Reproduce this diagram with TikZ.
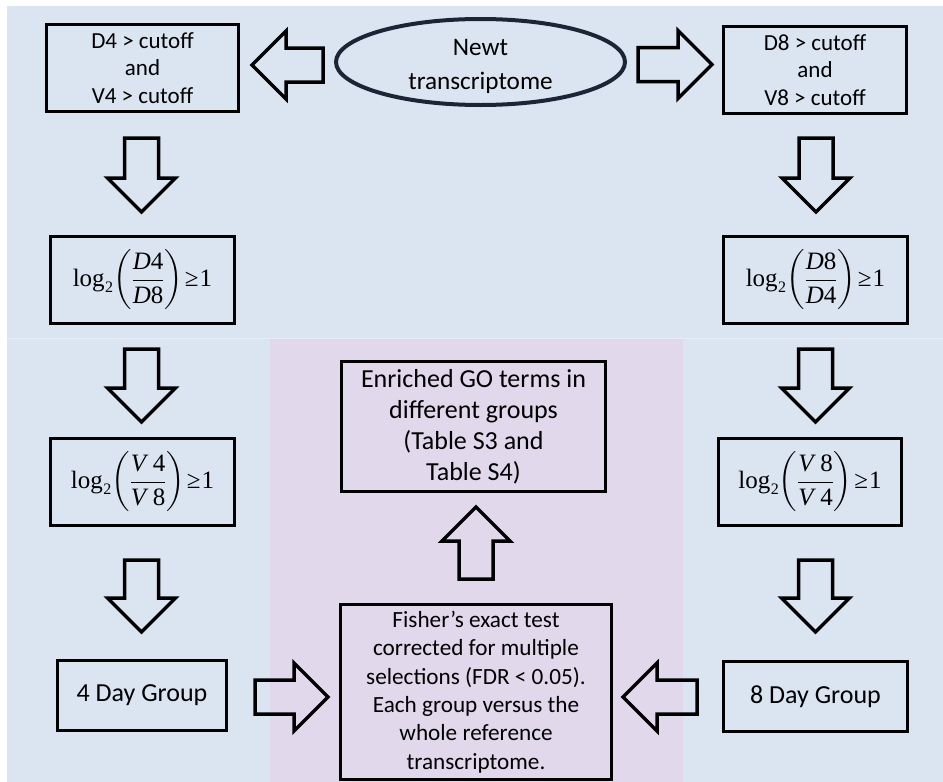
\documentclass[tikz,border=0pt]{standalone}
\usepackage{mathptmx}
\usepackage[no-math]{fontspec}
\setmainfont{Carlito}
\newfontfamily\tms{Liberation Serif}
\usetikzlibrary{shapes.geometric,calc}
\definecolor{bgblue}{HTML}{DBE5F1}
\definecolor{bgline}{HTML}{E6EDF6}
\definecolor{bgpurple}{HTML}{E1D8EC}
\definecolor{navy}{HTML}{1C2535}
\tikzset{
  box/.style={draw=black, line width=3.5pt, inner sep=0pt, align=center, font=\fontsize{23}{27.5}\selectfont},
  mathbox/.style={box, font=\fontsize{25}{30}\selectfont\tms},
  barrow/.style={draw=black, line width=3.5pt, line join=miter},
}
\newcommand\logratio[2]{%
  log\hspace{0.5pt}\raisebox{-6pt}{\fontsize{16}{16}\selectfont 2}%
  $\displaystyle\left(\frac{\mbox{\tms #1}}{\mbox{\tms #2}}\right)$\hspace{2pt}≥\hspace{1pt}1}
\newcommand\blockarrow[3]{%
  \draw[barrow, shift={(#1)}, rotate=#2]
    (0,-17) -- (#3-34,-17) -- (#3-34,-34) -- (#3,0) -- (#3-34,34) -- (#3-34,17) -- (0,17) -- cycle;}
\begin{document}
\begin{tikzpicture}[x=1pt, y=-1pt]
\useasboundingbox (0,0) rectangle (943,782);
% backgrounds
\fill[white] (0,0) rectangle (943,782);
\fill[bgblue] (7,6) rectangle (943,782);
\draw[bgline, line width=1.2pt] (7,338.5) -- (943,338.5);
\fill[bgpurple] (270,339) rectangle (682.5,782);

% nodes
\node[draw=navy, line width=4pt, ellipse, inner sep=0pt, minimum width=289, minimum height=86] (newt) at (480.5,62) {};
\node[inner sep=0pt, align=center, font=\fontsize{25.2}{34}\selectfont] (newtlabel) at ($(newt.center)+(0,4.5)$) {Newt\\transcriptome};
\node[box, minimum width=192, minimum height=87] (b1) at (142.5,68) {D4 > cutoff\\and\\V4 > cutoff};
\node[box, minimum width=183, minimum height=87] (b2) at (815,70) {D8 > cutoff\\and\\V8 > cutoff};
\node[mathbox, minimum width=184, minimum height=87] (b3) at (142.5,280) {\logratio{\textit{D}4}{\textit{D}8}};
\node[mathbox, minimum width=184, minimum height=87] (b4) at (815.5,280) {\logratio{\textit{D}8}{\textit{D}4}};
\node[mathbox, minimum width=184, minimum height=87] (b5) at (142.5,482) {\logratio{\textit{V}\,4}{\textit{V}\,8}};
\node[mathbox, minimum width=183, minimum height=87] (b6) at (810,482) {\logratio{\textit{V}\,8}{\textit{V}\,4}};
\node[box, minimum width=169, minimum height=70, font=\fontsize{26}{31}\selectfont] (d4) at (142,695.5) {4 Day Group};
\node[box, minimum width=184, minimum height=70, font=\fontsize{26}{31}\selectfont] (d8) at (815.5,696.5) {8 Day Group};
\node[box, minimum width=264, minimum height=130, font=\fontsize{26}{31}\selectfont] (go) at (473.5,426.5)
  {Enriched GO terms in\\different groups\\(Table S3 and\\Table S4)};
\node[box, minimum width=271, minimum height=175, font=\fontsize{23.2}{28.3}\selectfont] (fisher) at (476,692)
  {Fisher’s exact test\\corrected for multiple\\selections (FDR < 0.05).\\Each group versus the\\whole reference\\transcriptome.};

% connector tails
\coordinate (t1) at (323,65);
\coordinate (t2) at (638,64.5);
\coordinate (t3) at (141.5,138);
\coordinate (t4) at (816,138);
\coordinate (t5) at (141.5,349);
\coordinate (t6) at (815.5,349);
\coordinate (t7) at (141.5,560);
\coordinate (t8) at (815.5,560);
\coordinate (t9) at (255,697);
\coordinate (t10) at (697,697);
\coordinate (t11) at (476,579);

% block arrows: newt -> b1, newt -> b2
\blockarrow{t1}{180}{71}
\blockarrow{t2}{0}{74}
% b1 -> b3, b2 -> b4
\blockarrow{t3}{-90}{74}
\blockarrow{t4}{-90}{74}
% b3 -> b5, b4 -> b6
\blockarrow{t5}{-90}{73}
\blockarrow{t6}{-90}{73}
% b5 -> d4, b6 -> d8
\blockarrow{t7}{-90}{72}
\blockarrow{t8}{-90}{72}
% d4 -> fisher, d8 -> fisher
\blockarrow{t9}{0}{73}
\blockarrow{t10}{180}{74}
% fisher -> go
\blockarrow{t11}{90}{72}
\end{tikzpicture}
\end{document}
